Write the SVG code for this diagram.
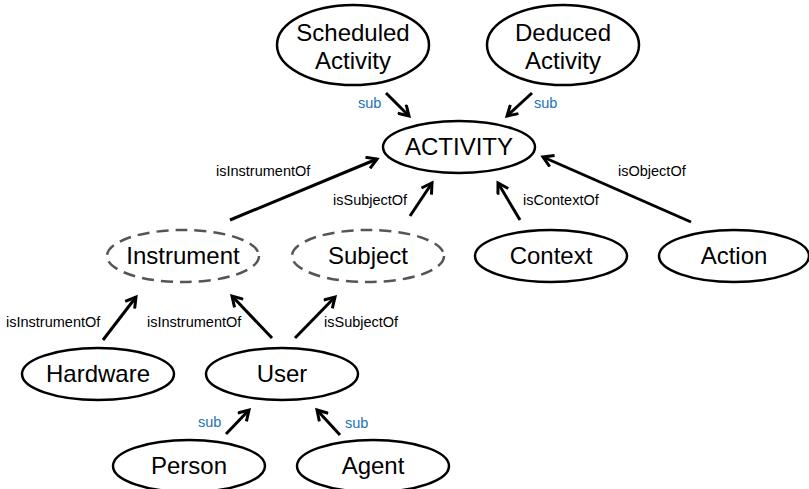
<svg xmlns="http://www.w3.org/2000/svg" width="809" height="489" viewBox="0 0 809 489">
<style>
.n{fill:#fff;stroke:#000;stroke-width:2.5}
.d{fill:#fff;stroke:#555;stroke-width:2.5;stroke-dasharray:12 7}
.t{font-family:"Liberation Sans",Arial,sans-serif;font-size:24px;fill:#000;text-anchor:middle}
.l{font-family:"Liberation Sans",Arial,sans-serif;font-size:14.5px;fill:#000}
.s{font-family:"Liberation Sans",Arial,sans-serif;font-size:14.5px;fill:#2270b8}
.c{stroke:#000;stroke-width:3;fill:none;marker-end:url(#a)}
</style>
<defs>
<marker id="a" viewBox="0 0 14 14" refX="11" refY="7" markerWidth="14" markerHeight="14" markerUnits="userSpaceOnUse" orient="auto">
<path d="M1,1 L11,7 L1,13" fill="none" stroke="#000" stroke-width="3"/>
</marker>
</defs>
<rect width="809" height="489" fill="#fff"/>
<g id="connectors">
<line class="c" x1="386" y1="93" x2="409" y2="116"/>
<line class="c" x1="532" y1="93" x2="507" y2="116"/>
<line class="c" x1="230" y1="220" x2="377" y2="159"/>
<line class="c" x1="410" y1="216" x2="432" y2="183"/>
<line class="c" x1="520" y1="220" x2="498" y2="183"/>
<line class="c" x1="691" y1="222" x2="543" y2="157"/>
<line class="c" x1="103" y1="340" x2="136" y2="297"/>
<line class="c" x1="272" y1="338" x2="232" y2="296"/>
<line class="c" x1="295" y1="338" x2="335" y2="297"/>
<line class="c" x1="226" y1="434" x2="249" y2="410"/>
<line class="c" x1="340" y1="435" x2="317" y2="410"/>
<text class="s" x="358" y="108">sub</text>
<text class="s" x="534" y="108">sub</text>
<text class="l" x="216" y="176">isInstrumentOf</text>
<text class="l" x="333" y="205">isSubjectOf</text>
<text class="l" x="523" y="205">isContextOf</text>
<text class="l" x="618" y="176">isObjectOf</text>
<text class="l" x="6" y="327">isInstrumentOf</text>
<text class="l" x="147" y="327">isInstrumentOf</text>
<text class="l" x="324" y="327">isSubjectOf</text>
<text class="s" x="198" y="427">sub</text>
<text class="s" x="345" y="428">sub</text>
</g>
<g id="scheduled"><ellipse class="n" cx="353" cy="45" rx="76" ry="40"/><text class="t" x="353" y="41">Scheduled</text><text class="t" x="353" y="69">Activity</text></g>
<g id="deduced"><ellipse class="n" cx="563" cy="45" rx="76" ry="40"/><text class="t" x="563" y="41">Deduced</text><text class="t" x="563" y="69">Activity</text></g>
<g id="activity"><ellipse class="n" cx="459" cy="147" rx="76" ry="26"/><text class="t" x="459" y="155">ACTIVITY</text></g>
<g id="instrument"><ellipse class="d" cx="183" cy="256" rx="76" ry="26"/><text class="t" x="183" y="264">Instrument</text></g>
<g id="subject"><ellipse class="d" cx="368" cy="256" rx="76" ry="26"/><text class="t" x="368" y="264">Subject</text></g>
<g id="context"><ellipse class="n" cx="551" cy="256" rx="76" ry="26"/><text class="t" x="551" y="264">Context</text></g>
<g id="action"><ellipse class="n" cx="734" cy="256" rx="75" ry="26"/><text class="t" x="734" y="264">Action</text></g>
<g id="hardware"><ellipse class="n" cx="98" cy="374" rx="76" ry="26"/><text class="t" x="98" y="382">Hardware</text></g>
<g id="user"><ellipse class="n" cx="282" cy="374" rx="76" ry="26"/><text class="t" x="282" y="382">User</text></g>
<g id="person"><ellipse class="n" cx="189" cy="466" rx="76" ry="26"/><text class="t" x="189" y="474">Person</text></g>
<g id="agent"><ellipse class="n" cx="373" cy="466" rx="76" ry="26"/><text class="t" x="373" y="474">Agent</text></g>
</svg>
